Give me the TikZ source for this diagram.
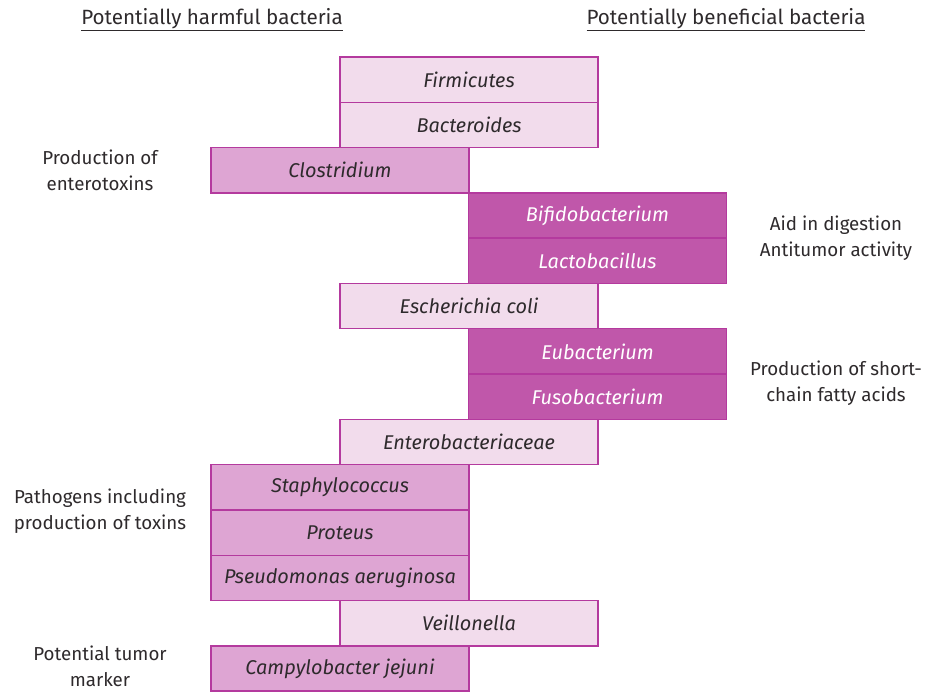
\documentclass[tikz,border=0pt]{standalone}
\usepackage{fontspec}
\setmainfont{Fira Sans}
\usetikzlibrary{calc}
\definecolor{boxline}{HTML}{B43A9E}
\definecolor{palefill}{HTML}{F2DCEC}
\definecolor{midfill}{HTML}{DEA5D3}
\definecolor{deepfill}{HTML}{C057AA}
\definecolor{inktext}{HTML}{2E2A2C}

\tikzset{
  genus/.style={draw=boxline, line width=1.2pt, minimum width=7.74cm, minimum height=1.36cm,
    inner sep=0pt, font=\fontsize{17}{20}\selectfont\itshape, text=inktext},
  pale/.style={genus, fill=palefill},
  harm/.style={genus, fill=midfill},
  good/.style={genus, fill=deepfill, text=white},
  note/.style={align=center, font=\fontsize{16}{22}\selectfont, text=inktext},
  head/.style={font=\fontsize{17.6}{20}\selectfont, text=inktext}
}

\begin{document}
\begin{tikzpicture}[x=0.03cm, y=-0.03cm]

	\useasboundingbox (0,0) rectangle (930,691);

	% headings
	\node[head] (harmhead) at (212,20) {\underline{Potentially harmful bacteria}};
	\node[head] (goodhead) at (726,20) {\underline{Potentially beneficial bacteria}};

	% column of genera
	\node[pale] (firm) at (469,79.6) {Firmicutes};
	\node[pale] (bact) at (469,124.9) {Bacteroides};
	\node[harm] (clos) at (340,170.2) {Clostridium};
	\node[good] (bifi) at (597.5,215.5) {Bifidobacterium};
	\node[good] (lacto) at (597.5,260.8) {Lactobacillus};
	\node[pale] (ecoli) at (469,306.1) {Escherichia coli};
	\node[good] (eub) at (597.5,351.4) {Eubacterium};
	\node[good] (fuso) at (597.5,396.7) {Fusobacterium};
	\node[pale] (entero) at (469,442) {Enterobacteriaceae};
	\node[harm] (staph) at (340,487.3) {Staphylococcus};
	\node[harm] (prot) at (340,532.6) {Proteus};
	\node[harm] (pseudo) at (340,577.9) {Pseudomonas aeruginosa};
	\node[pale] (veil) at (469,623.2) {Veillonella};
	\node[harm] (campy) at (340,668.5) {Campylobacter jejuni};

	% side notes
	\node[note] (entnote) at (100,170) {Production of\\enterotoxins};
	\node[note] (aidnote) at (836,238) {Aid in digestion\\Antitumor activity};
	\node[note] (scfnote) at (836,383) {Production of short-\\chain fatty acids};
	\node[note] (pathnote) at (100,511) {Pathogens including\\production of toxins};
	\node[note] (tumnote) at (100,666) {Potential tumor\\marker};

\end{tikzpicture}
\end{document}
